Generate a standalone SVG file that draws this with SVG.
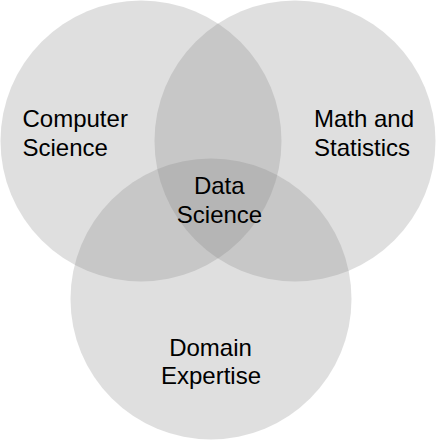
<svg xmlns="http://www.w3.org/2000/svg" width="436" height="440" viewBox="0 0 436 440">
  <style>
    .set { fill: #808080; fill-opacity: 0.25; stroke: none; }
    .label { font-family: "Liberation Sans", Arial, Helvetica, sans-serif; font-size: 24px; fill: #000000; }
  </style>
  <rect x="0" y="0" width="436" height="440" fill="#ffffff"/>
  <g id="computer-science">
    <circle class="set" cx="141" cy="141" r="140.5"/>
    <text class="label" x="22.5" y="127.3">Computer</text>
    <text class="label" x="22.5" y="155.8">Science</text>
  </g>
  <g id="math-statistics">
    <circle class="set" cx="295" cy="141" r="140.5"/>
    <text class="label" x="314" y="127.3">Math and</text>
    <text class="label" x="314" y="155.8">Statistics</text>
  </g>
  <g id="domain-expertise">
    <circle class="set" cx="211" cy="299" r="140.5"/>
    <text class="label" x="210.5" y="355.8" text-anchor="middle">Domain</text>
    <text class="label" x="211" y="384.3" text-anchor="middle">Expertise</text>
  </g>
  <g id="data-science">
    <text class="label" x="219.3" y="194.3" text-anchor="middle">Data</text>
    <text class="label" x="219.5" y="222.8" text-anchor="middle">Science</text>
  </g>
  <g id="connectors"></g>
</svg>
